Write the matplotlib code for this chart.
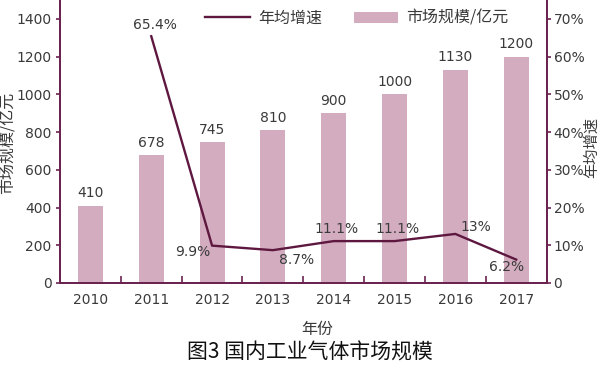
import matplotlib
matplotlib.use("Agg")
import matplotlib.pyplot as plt
from matplotlib.ticker import FuncFormatter, FixedLocator
import numpy as np

plt.rcParams['font.family'] = ['DejaVu Sans', 'Noto Sans CJK SC']
CJK = ['Noto Sans CJK SC', 'DejaVu Sans']

years = ['2010', '2011', '2012', '2013', '2014', '2015', '2016', '2017']
market = [410, 678, 745, 810, 900, 1000, 1130, 1200]
growth = [65.4, 9.9, 8.7, 11.1, 11.1, 13.0, 6.2]
growth_labels = ['65.4%', '9.9%', '8.7%', '11.1%', '11.1%', '13%', '6.2%']

BAR_C = '#d3adbf'
LINE_C = '#5e1840'
AX_C = '#6b2350'
TXT_C = '#3a3a3a'

W, H = 600, 365
fig = plt.figure(figsize=(6, 3.65), dpi=100)
ax = fig.add_axes([0.1, 0.2247, 0.811, 0.7753])
ax2 = ax.twinx()

x = np.arange(len(years))
bars = ax.bar(x, market, width=0.41, color=BAR_C, zorder=2)
for xi, v in zip(x, market):
    ax.annotate(str(v), (xi, v), xytext=(0, 4), textcoords='offset points',
                ha='center', va='bottom', fontsize=10, color=TXT_C)

gx = x[1:]
line, = ax2.plot(gx, growth, color=LINE_C, lw=1.7, zorder=3)

# label offsets from the point, in pixels (dx right, dy up)
offsets_px = [(4, 11), (-19, -6), (24, -10), (3, 12), (3, 12), (20, 7), (-10, -7)]
for xi, v, lab, (dx, dy) in zip(gx, growth, growth_labels, offsets_px):
    ax2.annotate(lab, (xi, v), xytext=(dx * 0.72, dy * 0.72), textcoords='offset points',
                 ha='center', va='center', fontsize=10, color=TXT_C)

ax.set_xlim(-0.5, 7.5)
ax.set_ylim(0, 1500)
ax2.set_ylim(0, 75)

ax.set_yticks(range(0, 1401, 200))
ax2.set_yticks(range(0, 71, 10))
ax2.yaxis.set_major_formatter(FuncFormatter(lambda v, p: '0' if v == 0 else f'{int(v)}%'))

ax.set_xticks(x)
ax.set_xticklabels(years)
ax.xaxis.set_minor_locator(FixedLocator(np.arange(0.5, 7, 1)))
ax.tick_params(axis='x', which='major', length=0, pad=7, labelsize=10, labelcolor=TXT_C)
ax.tick_params(axis='x', which='minor', direction='in', length=5, color=AX_C, width=1.2)
ax.tick_params(axis='y', direction='out', length=3, color=AX_C, labelsize=10,
               labelcolor=TXT_C, width=1.2, pad=3)
ax2.tick_params(axis='y', direction='out', length=3, color=AX_C, labelsize=10,
                labelcolor=TXT_C, width=1.2, pad=2)

for a in (ax, ax2):
    a.spines['top'].set_visible(False)
    for s in ('left', 'right', 'bottom'):
        a.spines[s].set_color(AX_C)
        a.spines[s].set_linewidth(1.4)

# axis titles placed by pixel centre
fig.text(8 / W, 1 - 143 / H, '市场规模/亿元', rotation=90, ha='center', va='center',
         fontsize=11.5, color=TXT_C, family=CJK)
fig.text(592 / W, 1 - 147 / H, '年均增速', rotation=90, ha='center', va='center',
         fontsize=11, color=TXT_C, family=CJK)
fig.text(317 / W, 1 - 329 / H, '年份', ha='center', va='center',
         fontsize=11.5, color=TXT_C, family=CJK)

ax.legend([line, bars], ['年均增速', '市场规模/亿元'], loc='center',
          bbox_to_anchor=(0.61, 0.935), ncol=2, frameon=False,
          prop={'family': CJK, 'size': 11.5}, handlelength=2.8, handletextpad=0.5,
          columnspacing=2.0, labelcolor=TXT_C)

fig.text(0.516, 1 - 353 / H, '图3 国内工业气体市场规模', ha='center', va='center',
         fontsize=15, color='#111111', family=CJK)

fig.savefig('out.png', dpi=100)
